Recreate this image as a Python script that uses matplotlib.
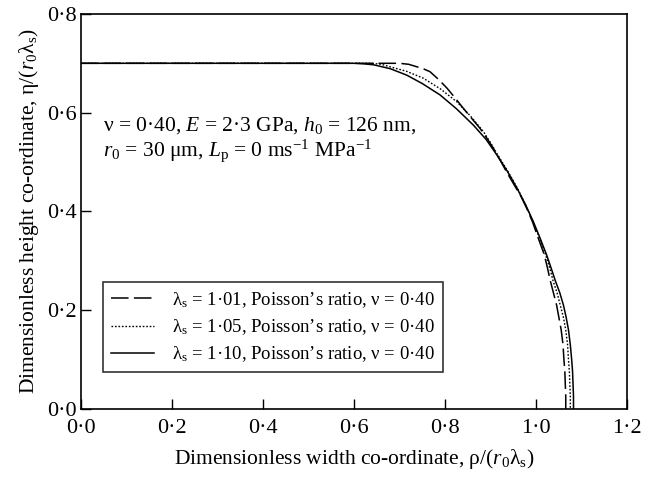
import matplotlib
matplotlib.use("Agg")
import matplotlib.pyplot as plt
from matplotlib.ticker import FuncFormatter

plt.rcParams['font.family'] = ['Liberation Serif', 'DejaVu Serif']
plt.rcParams['mathtext.fontset'] = 'custom'
plt.rcParams['mathtext.rm'] = 'Liberation Serif'
plt.rcParams['mathtext.it'] = 'Liberation Serif:italic'
plt.rcParams['mathtext.bf'] = 'Liberation Serif:bold'

# lambda_s = 1.01 (dashed)
x_101 = [0.0, 0.70, 0.72, 0.738, 0.752, 0.767, 0.785, 0.804, 0.822, 0.840, 0.858, 0.877, 0.892, 0.906,
         0.921, 0.935, 0.951, 0.967, 0.980, 0.992, 1.005, 1.018, 1.025, 1.031, 1.038, 1.045, 1.050,
         1.055, 1.059, 1.061, 1.063, 1.064, 1.065, 1.065]
y_101 = [0.70, 0.70, 0.698, 0.693, 0.689, 0.683, 0.668, 0.650, 0.630, 0.609, 0.589, 0.568, 0.548, 0.528,
         0.504, 0.48, 0.455, 0.43, 0.405, 0.379, 0.345, 0.312, 0.285, 0.26, 0.235, 0.21, 0.185,
         0.16, 0.13, 0.10, 0.075, 0.05, 0.025, 0.0]
# lambda_s = 1.05 (dotted)
x_105 = [0.0, 0.64, 0.66, 0.679, 0.715, 0.752, 0.79, 0.826, 0.855, 0.884, 0.90, 0.916, 0.938, 0.959,
         0.977, 0.993, 1.008, 1.021, 1.030, 1.037, 1.046, 1.053, 1.060, 1.065, 1.069, 1.071, 1.073,
         1.074, 1.075, 1.075]
y_105 = [0.70, 0.70, 0.698, 0.693, 0.684, 0.670, 0.648, 0.622, 0.594, 0.562, 0.539, 0.514, 0.481, 0.447,
         0.413, 0.379, 0.345, 0.312, 0.285, 0.26, 0.235, 0.21, 0.185, 0.16, 0.13, 0.10, 0.075,
         0.05, 0.025, 0.0]
# lambda_s = 1.10 (solid)
x_110 = [0.0, 0.60, 0.62, 0.643, 0.68, 0.716, 0.75, 0.789, 0.825, 0.862, 0.89, 0.914, 0.937, 0.958,
         0.977, 0.994, 1.009, 1.023, 1.033, 1.042, 1.052, 1.060, 1.066, 1.071, 1.075, 1.078, 1.080,
         1.081, 1.082, 1.082]
y_110 = [0.70, 0.70, 0.699, 0.697, 0.689, 0.676, 0.659, 0.636, 0.608, 0.575, 0.546, 0.514, 0.481, 0.447,
         0.413, 0.379, 0.345, 0.312, 0.285, 0.26, 0.235, 0.21, 0.185, 0.16, 0.13, 0.10, 0.075,
         0.05, 0.025, 0.0]

labels = [u"λ$_{\\mathrm{s}}$ = 1·01, Poisson\u2019s ratio, ν = 0·40",
          u"λ$_{\\mathrm{s}}$ = 1·05, Poisson\u2019s ratio, ν = 0·40",
          u"λ$_{\\mathrm{s}}$ = 1·10, Poisson\u2019s ratio, ν = 0·40"]

xticks = [0.0, 0.2, 0.4, 0.6, 0.8, 1.0, 1.2]
yticks = [0.0, 0.2, 0.4, 0.6, 0.8]

fig = plt.figure(figsize=(6.5, 4.8), dpi=100)
ax = fig.add_axes([0.124, 0.148, 0.841, 0.823])

ax.plot(x_101, y_101, color='black', lw=1.1, linestyle=(0, (11.5, 3.5)), label=labels[0])
ax.plot(x_105, y_105, color='black', lw=1.0, linestyle=(0, (1.2, 1.3)), label=labels[1])
ax.plot(x_110, y_110, color='black', lw=1.1, linestyle='-', label=labels[2])

ax.set_xlim(0, 1.2)
ax.set_ylim(0, 0.8)
ax.set_xticks(xticks)
ax.set_yticks(yticks)
fmt = FuncFormatter(lambda v, p: f"{v:.1f}".replace('.', '·'))
ax.xaxis.set_major_formatter(fmt)
ax.yaxis.set_major_formatter(fmt)
ax.tick_params(direction='in', length=7, width=1.0, labelsize=16,
               top=False, right=False)
ax.tick_params(axis='x', pad=7)
ax.tick_params(axis='y', pad=3)
for s in ax.spines.values():
    s.set_linewidth(1.2)

ax.set_xlabel(u"Dimensionless width co-ordinate, ρ/($r_0$λ$_{\\mathrm{s}}$)", fontsize=15.5, labelpad=7)
ax.set_ylabel(u"Dimensionless height co-ordinate, η/($r_0$λ$_{\\mathrm{s}}$)", fontsize=15.5, labelpad=4)

ax.text(0.049, 0.574, u"ν = 0·40, $E$ = 2·3 GPa, $h_0$ = 126 nm,", fontsize=15.5, va='center', ha='left')
ax.text(0.049, 0.524, u"$r_0$ = 30 μm, $L_{\\mathrm{p}}$ = 0 ms$^{-1}$ MPa$^{-1}$", fontsize=15.5, va='center', ha='left')

leg = ax.legend(loc='lower left', bbox_to_anchor=(0.041, 0.094), borderaxespad=0,
                fontsize=13.5, frameon=True, fancybox=False, edgecolor='black',
                handlelength=2.3, handletextpad=1.0, labelspacing=0.4,
                borderpad=0.4)
leg.get_frame().set_linewidth(1.2)

fig.savefig("out.png", dpi=100)
